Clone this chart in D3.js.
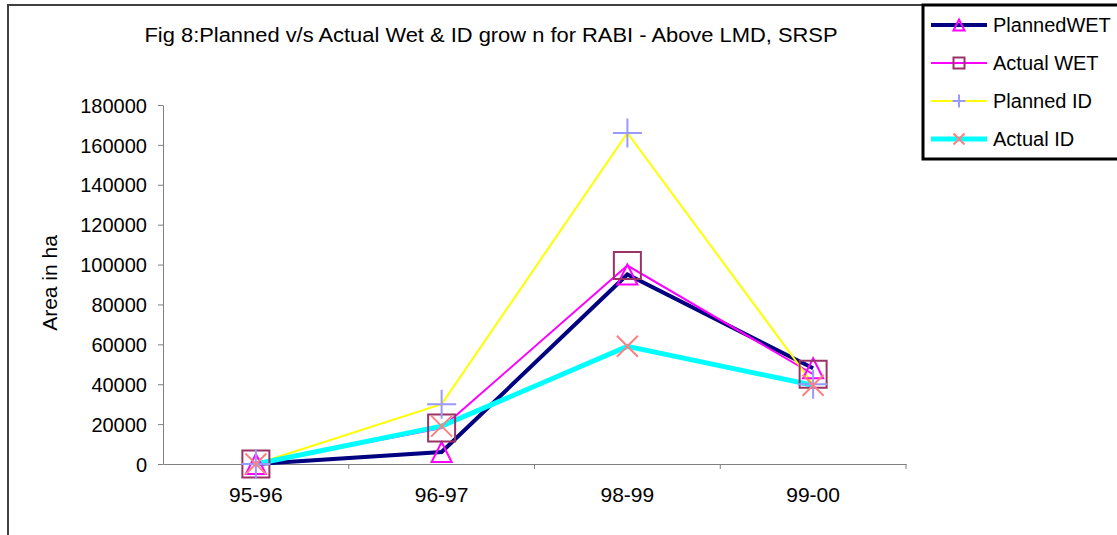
<!DOCTYPE html>
<head>
  <script src="https://d3js.org/d3.v7.min.js"></script>
  <style>
    body { margin: 0; overflow: hidden; background: #fff; }
    text { font-family: "Liberation Sans", Arial, sans-serif; fill: #000; }
  </style>
</head>
<body>
  <svg width="1117" height="535"></svg>
  <script>
    const years = ['95-96', '96-97', '98-99', '99-00'];
    const plannedWet = [0, 6000, 95000, 48000];
    const actualWet = [0, 18000, 99500, 45000];
    const plannedId = [0, 30000, 166000, 40000];
    const actualId = [0, 19000, 59000, 39500];
    const yTicks = [0, 20000, 40000, 60000, 80000, 100000, 120000, 140000, 160000, 180000];

    const series = [
      { name: 'PlannedWET', values: plannedWet, line: '#000080', width: 4, marker: 'triangle', mColor: '#ff00ff', size: 20 },
      { name: 'Actual WET', values: actualWet, line: '#ff00ff', width: 2, marker: 'square', mColor: '#993366', size: 27 },
      { name: 'Planned ID', values: plannedId, line: '#ffff00', width: 2, marker: 'plus', mColor: '#9999ff', size: 29 },
      { name: 'Actual ID', values: actualId, line: '#00ffff', width: 5, marker: 'cross', mColor: '#ff8080', size: 21 }
    ];

    const svg = d3.select('svg');
    const margin = { left: 163, right: 211, top: 105, bottom: 71 };
    const innerW = 1117 - margin.left - margin.right;
    const innerH = 535 - margin.top - margin.bottom;

    // outer chart border
    svg.append('path')
      .attr('d', 'M8,540 V5 H1120')
      .attr('fill', 'none').attr('stroke', '#404040').attr('stroke-width', 2);

    const g = svg.append('g').attr('transform', `translate(${margin.left},${margin.top})`);

    const x = d3.scaleBand().domain(years).range([0, innerW]);
    const y = d3.scaleLinear().domain([0, 180000]).range([innerH, 0]);

    const yAxis = g.append('g')
      .call(d3.axisLeft(y).tickValues(yTicks).tickSize(5).tickSizeOuter(0).tickFormat(d3.format('d')));
    yAxis.selectAll('path, line').attr('stroke', '#808080');
    yAxis.selectAll('text').attr('font-size', 20).attr('x', -16).attr('dy', '0.36em');

    const xAxis = g.append('g').attr('transform', `translate(0,${innerH})`)
      .call(d3.axisBottom(x).tickSize(0).tickSizeOuter(0));
    xAxis.selectAll('path').attr('stroke', '#808080');
    xAxis.selectAll('text').attr('font-size', 21).attr('y', 0).attr('dy', '1.82em');
    // tick marks between categories
    xAxis.selectAll('.sep').data(d3.range(1, years.length + 1))
      .enter().append('line')
      .attr('x1', i => i * x.bandwidth()).attr('x2', i => i * x.bandwidth())
      .attr('y1', 0).attr('y2', 5).attr('stroke', '#808080');

    svg.append('text')
      .attr('transform', 'translate(57,283) rotate(-90)')
      .attr('text-anchor', 'middle').attr('font-size', 21)
      .text('Area in ha');

    svg.append('text')
      .attr('x', 491).attr('y', 42).attr('text-anchor', 'middle')
      .attr('font-size', 20).attr('textLength', 693).attr('lengthAdjust', 'spacingAndGlyphs')
      .text('Fig 8:Planned v/s Actual Wet & ID grow n for RABI - Above LMD, SRSP');

    function drawMarker(sel, s, size) {
      const h = size / 2;
      let d;
      if (s.marker === 'triangle') d = `M0,${-h}L${h},${h}L${-h},${h}Z`;
      else if (s.marker === 'square') d = `M${-h},${-h}H${h}V${h}H${-h}Z`;
      else if (s.marker === 'plus') d = `M${-h},0H${h}M0,${-h}V${h}`;
      else d = `M${-h},${-h}L${h},${h}M${h},${-h}L${-h},${h}`;
      sel.append('path').attr('d', d).attr('fill', 'none')
        .attr('stroke', s.mColor).attr('stroke-width', 2);
    }

    const line = d3.line()
      .x((d, i) => x(years[i]) + x.bandwidth() / 2)
      .y(d => y(d));

    series.forEach(s => {
      g.append('path').datum(s.values)
        .attr('d', line).attr('fill', 'none')
        .attr('stroke', s.line).attr('stroke-width', s.width)
        .attr('stroke-linejoin', 'miter');
    });
    series.forEach(s => {
      s.values.forEach((v, i) => {
        const m = g.append('g')
          .attr('transform', `translate(${x(years[i]) + x.bandwidth() / 2},${y(v)})`);
        drawMarker(m, s, s.size);
      });
    });

    // legend
    const lg = svg.append('g');
    lg.append('rect').attr('x', 923).attr('y', 5).attr('width', 200).attr('height', 154)
      .attr('fill', '#fff').attr('stroke', '#000').attr('stroke-width', 3);
    series.forEach((s, i) => {
      const yy = 25 + i * 38;
      lg.append('line').attr('x1', 931).attr('x2', 987).attr('y1', yy).attr('y2', yy)
        .attr('stroke', s.line).attr('stroke-width', s.width);
      const m = lg.append('g').attr('transform', `translate(959,${yy})`);
      drawMarker(m, s, s.marker === 'plus' ? 13 : 11);
      lg.append('text').attr('x', 993).attr('y', yy).attr('dy', '0.36em')
        .attr('font-size', 20).text(s.name);
    });
  </script>
</body>
